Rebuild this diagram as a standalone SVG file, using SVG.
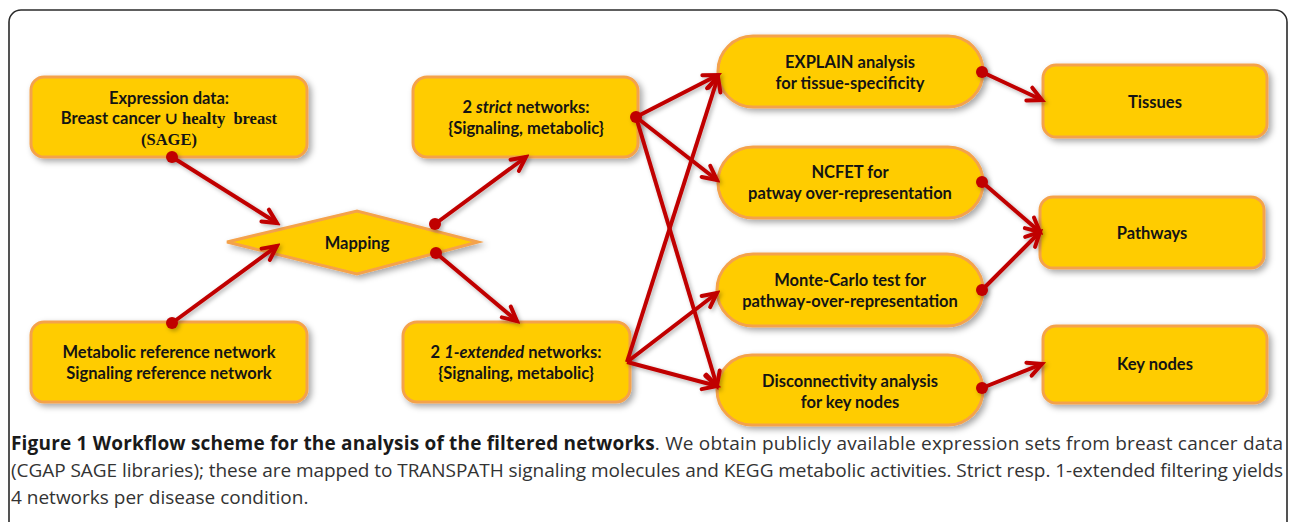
<svg xmlns="http://www.w3.org/2000/svg" width="1290" height="522" viewBox="0 0 1290 522">
<defs>
<filter id="sh" x="-20%" y="-20%" width="140%" height="150%">
<feDropShadow dx="3" dy="3" stdDeviation="3" flood-color="#000" flood-opacity="0.35"/>
</filter>
<filter id="lsh" x="-20%" y="-20%" width="140%" height="140%">
<feDropShadow dx="2" dy="2" stdDeviation="2" flood-color="#000" flood-opacity="0.3"/>
</filter>
<marker id="ah" viewBox="0 0 22 22" refX="18" refY="11" markerWidth="22" markerHeight="22" markerUnits="userSpaceOnUse" orient="auto">
<path d="M4,4 L18,11 L4,18" fill="none" stroke="#C00000" stroke-width="4" stroke-linecap="round" stroke-linejoin="miter"/>
</marker>
</defs>
<style>
.box{fill:#FFCC00;stroke:#F4A24C;stroke-width:3}
.t{font-family:Lato,"Open Sans","Liberation Sans",sans-serif;font-weight:bold;font-size:16.5px;fill:#141414;text-anchor:middle}
.sr{font-family:"Liberation Serif","DejaVu Serif",serif;font-weight:bold}
.c{stroke:#C00000;stroke-width:4;fill:none;marker-end:url(#ah)}
.dot{fill:#C00000}
.cap{font-family:"Open Sans","Liberation Sans",sans-serif;font-size:19px;fill:#333}
</style>
<rect x="0" y="0" width="1290" height="522" fill="#fff"/>
<rect x="9" y="10" width="1278" height="540" rx="12" fill="none" stroke="#2a2a2a" stroke-width="1.6"/>

<g id="n_expr"><rect class="box" x="31" y="77" width="276" height="80" rx="13" filter="url(#sh)"/>
<text class="t" x="169" y="104">Expression data:</text>
<text class="t" x="169" y="124" xml:space="preserve">Breast cancer <tspan class="sr">∪ healty  breast</tspan></text>
<text class="t sr" x="169" y="145">(SAGE)</text></g>

<g id="n_ref"><rect class="box" x="31" y="322" width="276" height="80" rx="13" filter="url(#sh)"/>
<text class="t" x="169" y="358">Metabolic reference network</text>
<text class="t" x="169" y="379">Signaling reference network</text></g>

<g id="n_map"><polygon class="box" points="227,242 357,211 478,242 357,274" filter="url(#sh)"/>
<text class="t" x="357" y="249">Mapping</text></g>

<g id="n_strict"><rect class="box" x="413" y="77" width="225" height="80" rx="14" filter="url(#sh)"/>
<text class="t" x="526" y="113">2 <tspan font-style="italic">strict</tspan> networks:</text>
<text class="t" x="526" y="134">{Signaling, metabolic}</text></g>

<g id="n_ext"><rect class="box" x="403" y="322" width="227" height="80" rx="14" filter="url(#sh)"/>
<text class="t" x="516" y="358">2 <tspan font-style="italic">1-extended</tspan> networks:</text>
<text class="t" x="516" y="379">{Signaling, metabolic}</text></g>

<g id="n_explain"><rect class="box" x="718" y="36" width="265" height="71" rx="35" filter="url(#sh)"/>
<text class="t" x="850" y="68">EXPLAIN analysis</text>
<text class="t" x="850" y="89">for tissue-specificity</text></g>

<g id="n_ncfet"><rect class="box" x="718" y="147" width="265" height="71" rx="35" filter="url(#sh)"/>
<text class="t" x="850" y="178">NCFET for</text>
<text class="t" x="850" y="199">patway over-representation</text></g>

<g id="n_mc"><rect class="box" x="717" y="254" width="266" height="72" rx="36" filter="url(#sh)"/>
<text class="t" x="850" y="286">Monte-Carlo test for</text>
<text class="t" x="850" y="307">pathway-over-representation</text></g>

<g id="n_disc"><rect class="box" x="717" y="355" width="266" height="70" rx="35" filter="url(#sh)"/>
<text class="t" x="850" y="387">Disconnectivity analysis</text>
<text class="t" x="850" y="408">for key nodes</text></g>

<g id="n_tissues"><rect class="box" x="1043" y="65" width="224" height="72" rx="13" filter="url(#sh)"/>
<text class="t" x="1155" y="108">Tissues</text></g>

<g id="n_path"><rect class="box" x="1040" y="197" width="224" height="71" rx="13" filter="url(#sh)"/>
<text class="t" x="1152" y="239">Pathways</text></g>

<g id="n_key"><rect class="box" x="1043" y="326" width="224" height="77" rx="13" filter="url(#sh)"/>
<text class="t" x="1155" y="370">Key nodes</text></g>

<g id="connectors" filter="url(#lsh)">
<line class="c" x1="172" y1="157" x2="277" y2="223"/>
<line class="c" x1="172" y1="323" x2="277" y2="246"/>
<line class="c" x1="435" y1="224" x2="526" y2="157"/>
<line class="c" x1="436" y1="253" x2="517" y2="321"/>
<line class="c" x1="636" y1="117" x2="718" y2="75"/>
<line class="c" x1="636" y1="117" x2="717" y2="180"/>
<line class="c" x1="636" y1="117" x2="717" y2="386"/>
<line class="c" x1="627" y1="362" x2="718" y2="77"/>
<line class="c" x1="627" y1="362" x2="717" y2="293"/>
<line class="c" x1="627" y1="362" x2="717" y2="386"/>
<line class="c" x1="982" y1="72" x2="1042" y2="100"/>
<line class="c" x1="982" y1="182" x2="1040" y2="232"/>
<line class="c" x1="982" y1="290" x2="1040" y2="232"/>
<line class="c" x1="982" y1="388" x2="1042" y2="364"/>
<circle class="dot" cx="172" cy="157" r="6"/>
<circle class="dot" cx="172" cy="323" r="6"/>
<circle class="dot" cx="435" cy="224" r="6"/>
<circle class="dot" cx="436" cy="253" r="6"/>
<circle class="dot" cx="636" cy="117" r="6"/>
<circle class="dot" cx="982" cy="72" r="6"/>
<circle class="dot" cx="982" cy="182" r="6"/>
<circle class="dot" cx="982" cy="290" r="6"/>
<circle class="dot" cx="982" cy="388" r="6"/>
</g>

<g id="caption">
<text class="cap" x="11" y="450" textLength="1272" lengthAdjust="spacing"><tspan font-weight="bold" fill="#1a1a1a">Figure 1 Workflow scheme for the analysis of the filtered networks</tspan>. We obtain publicly available expression sets from breast cancer data</text>
<text class="cap" x="11" y="477" textLength="1272" lengthAdjust="spacing">(CGAP SAGE libraries); these are mapped to TRANSPATH signaling molecules and KEGG metabolic activities. Strict resp. 1-extended filtering yields</text>
<text class="cap" x="11" y="504">4 networks per disease condition.</text>
</g>
</svg>
